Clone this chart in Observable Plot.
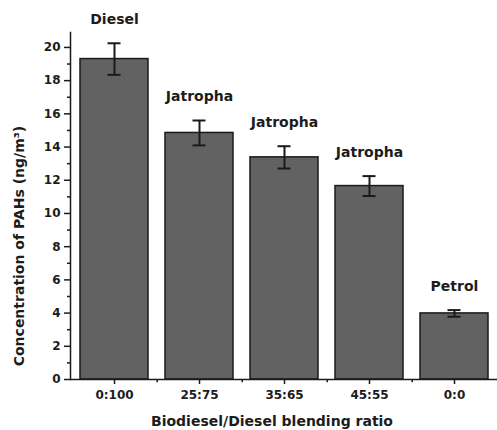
<!DOCTYPE html>
<html>
<head>
<meta charset="utf-8">
<script src="https://cdn.jsdelivr.net/npm/d3@7"></script>
<script src="https://cdn.jsdelivr.net/npm/@observablehq/plot@0.6"></script>
<style>
  html, body { margin: 0; padding: 0; background: #fff; }
  #chart svg { display: block; }
</style>
</head>
<body>
<div id="chart"></div>
<script>
// Blending ratios (biodiesel : diesel) and the fuel named above each bar
const ratios = ["0:100", "25:75", "35:65", "45:55", "0:0"];
const fuels = ["Diesel", "Jatropha", "Jatropha", "Jatropha", "Petrol"];
// Mean PAH concentration (ng/m³) and its error
const concentration = [19.3, 14.85, 13.38, 11.65, 3.98];
const errors = [0.95, 0.75, 0.67, 0.6, 0.2];
const majorTicks = [0, 2, 4, 6, 8, 10, 12, 14, 16, 18, 20];
const minorTicks = [1, 3, 5, 7, 9, 11, 13, 15, 17, 19];

const rows = ratios.map((r, i) => ({
  ratio: r,
  fuel: fuels[i],
  value: concentration[i],
  lo: concentration[i] - errors[i],
  hi: concentration[i] + errors[i]
}));

const W = 497, H = 430;
const mL = 70, mR = 0;
const step = (W - mL - mR) / (ratios.length - 0.2 + 0.2);

const chart = Plot.plot({
  width: W,
  height: H,
  marginLeft: mL,
  marginRight: mR,
  marginTop: 32,
  marginBottom: 51,
  style: {
    fontFamily: "'DejaVu Sans', sans-serif",
    fontWeight: "bold",
    fontSize: "12px",
    color: "#1c1c1c",
    background: "#fff"
  },
  x: {domain: ratios, paddingInner: 0.2, paddingOuter: 0.1, label: null},
  y: {domain: [0, 20.9], label: null},
  marks: [
    Plot.barY(rows, {x: "ratio", y: "value", fill: "#626262", stroke: "#1a1a1a", strokeWidth: 1.5}),
    // error bars
    Plot.ruleX(rows, {x: "ratio", y1: "lo", y2: "hi", stroke: "#1a1a1a", strokeWidth: 2}),
    Plot.tickY(rows, {x: "ratio", y: "hi", stroke: "#1a1a1a", strokeWidth: 2, insetLeft: 27.5, insetRight: 27.5}),
    Plot.tickY(rows, {x: "ratio", y: "lo", stroke: "#1a1a1a", strokeWidth: 2, insetLeft: 27.5, insetRight: 27.5}),
    // fuel names above the bars
    Plot.text(rows, {x: "ratio", y: "hi", text: "fuel", dy: -24, fontSize: 14, fontWeight: "bold", fill: "#1c1c1c"}),
    // axes
    Plot.axisY(majorTicks, {tickSize: 6, tickPadding: 4, strokeWidth: 1.5, label: null, fontSize: 12}),
    Plot.axisY(minorTicks, {tickSize: 3, strokeWidth: 1.5, tickFormat: () => "", label: null}),
    Plot.axisX({tickSize: 5, tickPadding: 6, strokeWidth: 1.5, label: null, fontSize: 12}),
    Plot.ruleX(ratios.slice(0, -1), {x: d => d, y1: 0, y2: -0.19, dx: step / 2, stroke: "#1a1a1a", strokeWidth: 1.5}),
    Plot.frame({anchor: "left", stroke: "#1a1a1a", strokeWidth: 1.5}),
    Plot.ruleY([0], {stroke: "#1a1a1a", strokeWidth: 1.5}),
    // axis titles
    Plot.text(["Concentration of PAHs (ng/m³)"], {frameAnchor: "left", textAnchor: "middle", rotate: -90, dx: -51, dy: 40, fontSize: 14, fontWeight: "bold", fill: "#1c1c1c"}),
    Plot.text(["Biodiesel/Diesel blending ratio"], {frameAnchor: "bottom", textAnchor: "middle", dx: -12, dy: 46, fontSize: 14, fontWeight: "bold", fill: "#1c1c1c"})
  ]
});

document.getElementById("chart").append(chart);
</script>
</body>
</html>
